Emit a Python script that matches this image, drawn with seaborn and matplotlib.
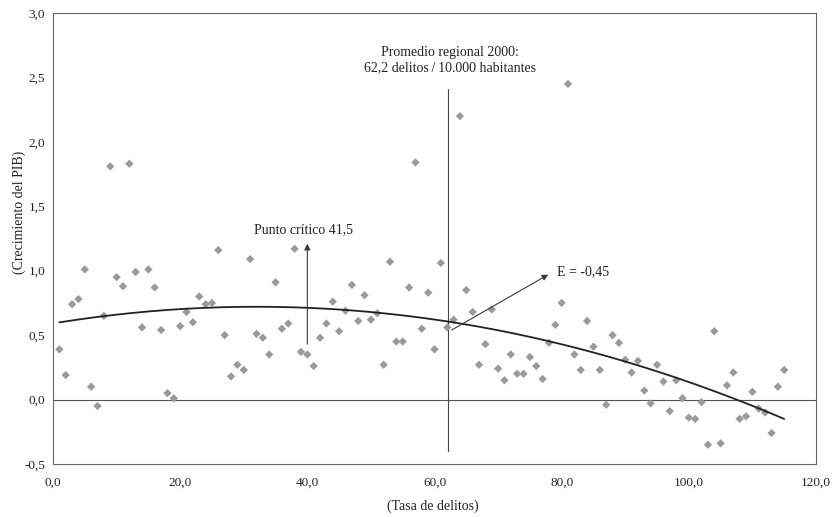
import numpy as np
import pandas as pd
import matplotlib
matplotlib.use("Agg")
import matplotlib.pyplot as plt
import seaborn as sns

# Crime rate per region (delitos / 10.000 habitantes) and GDP growth
tasa_delitos = [
    1, 2, 3, 4, 5, 6, 7, 8, 9, 10, 11, 12, 13, 14, 15, 16, 17, 18, 19, 20,
    21, 22, 23, 24, 25, 26, 27, 28, 29, 30, 31, 32, 33, 34, 35, 36, 37, 38, 39, 40,
    41, 42, 43, 44, 45, 46, 47, 48, 49, 50, 51, 52, 53, 54, 55, 56, 57, 58, 59, 60,
    61, 62, 63, 64, 65, 66, 67, 68, 69, 70, 71, 72, 73, 74, 75, 76, 77, 78, 79, 80,
    81, 82, 83, 84, 85, 86, 87, 88, 89, 90, 91, 92, 93, 94, 95, 96, 97, 98, 99, 100,
    101, 102, 103, 104, 105, 106, 107, 108, 109, 110, 111, 112, 113, 114, 115,
]
crecimiento_pib = [
    0.39, 0.19, 0.74, 0.78, 1.01, 0.10, -0.05, 0.65, 1.81, 0.95,
    0.88, 1.83, 0.99, 0.56, 1.01, 0.87, 0.54, 0.05, 0.01, 0.57,
    0.68, 0.60, 0.80, 0.74, 0.75, 1.16, 0.50, 0.18, 0.27, 0.23,
    1.09, 0.51, 0.48, 0.35, 0.91, 0.55, 0.59, 1.17, 0.37, 0.35,
    0.26, 0.48, 0.59, 0.76, 0.53, 0.69, 0.89, 0.61, 0.81, 0.62,
    0.67, 0.27, 1.07, 0.45, 0.45, 0.87, 1.84, 0.55, 0.83, 0.39,
    1.06, 0.56, 0.62, 2.20, 0.85, 0.68, 0.27, 0.43, 0.70, 0.24,
    0.15, 0.35, 0.20, 0.20, 0.33, 0.26, 0.16, 0.44, 0.58, 0.75,
    2.45, 0.35, 0.23, 0.61, 0.41, 0.23, -0.04, 0.50, 0.44, 0.31,
    0.21, 0.30, 0.07, -0.03, 0.27, 0.14, -0.09, 0.15, 0.01, -0.14,
    -0.15, -0.02, -0.35, 0.53, -0.34, 0.11, 0.21, -0.15, -0.13, 0.06,
    -0.07, -0.10, -0.26, 0.10, 0.23,
]

# Quadratic trend: y = c2*x^2 + c1*x + c0
coef_tendencia = [-0.0001263, 0.00808, 0.591]
tramo_tendencia = [1, 115]

promedio_regional = 62.2
x_ticks = [0, 20, 40, 60, 80, 100, 120]
y_ticks = [-0.5, 0.0, 0.5, 1.0, 1.5, 2.0, 2.5, 3.0]

df = pd.DataFrame({"tasa": tasa_delitos, "pib": crecimiento_pib})
xs = np.linspace(tramo_tendencia[0], tramo_tendencia[1], 200)
df_curva = pd.DataFrame({"tasa": xs, "pib": np.polyval(coef_tendencia, xs)})

sns.set_theme(style="white")
plt.rcParams["font.family"] = ["Liberation Serif", "DejaVu Serif"]

fig = plt.figure(figsize=(8.35, 5.17), dpi=100)
ax = fig.add_axes([53 / 835, 53 / 517, 763 / 835, 451 / 517])

line_col = "#3a3a3a"

# reference lines
ax.axhline(0, color="#555555", lw=0.8, zorder=1)
ax.plot([promedio_regional, promedio_regional], [-0.40, 2.41], color="#444444", lw=0.8, zorder=1)

sns.scatterplot(data=df, x="tasa", y="pib", marker="D", s=18, color="#9a9a9a",
                edgecolor="none", ax=ax, zorder=2)
sns.lineplot(data=df_curva, x="tasa", y="pib", color="#222222", lw=1.3, ax=ax, zorder=3)

arrow_kw = dict(arrowstyle="-|>", color=line_col, lw=0.8, mutation_scale=9, shrinkA=0, shrinkB=0)
ax.annotate("", xy=(40.0, 1.21), xytext=(40.0, 0.43), arrowprops=arrow_kw)
ax.annotate("", xy=(77.9, 0.97), xytext=(62.7, 0.54), arrowprops=arrow_kw)

ax.text(39.4, 1.32, "Punto crítico 41,5", ha="center", va="center", fontsize=10, color="#222222")
ax.text(79.3, 0.99, "E = -0,45", ha="left", va="center", fontsize=10, color="#222222")
ax.text(62.4, 2.635, "Promedio regional 2000:\n62,2 delitos\u2009/\u200910.000 habitantes",
        ha="center", va="center", fontsize=10, color="#222222", linespacing=1.15)

ax.set_xlim(0, 120)
ax.set_ylim(-0.5, 3.0)
ax.set_xticks(x_ticks)
ax.set_yticks(y_ticks)
ax.set_xticklabels([f"{v:.1f}".replace(".", ",") for v in x_ticks])
ax.set_yticklabels([f"{v:.1f}".replace(".", ",") for v in y_ticks])

ax.set_xlabel("(Tasa de delitos)", fontsize=10, color="#222222")
ax.set_ylabel("(Crecimiento del PIB)", fontsize=10, color="#222222")
ax.xaxis.set_label_coords(0.498, -0.078)
ax.yaxis.set_label_coords(-0.036, 0.559)

ax.tick_params(axis="both", direction="inout", length=5, width=0.7, colors="#555555",
               labelcolor="#222222", labelsize=9.5)
ax.tick_params(axis="x", pad=7)
ax.tick_params(axis="y", pad=3)

for side in ["left", "right", "top", "bottom"]:
    ax.spines[side].set_visible(True)
    ax.spines[side].set_color("#666666")
    ax.spines[side].set_linewidth(0.8)

fig.savefig("out.png", dpi=100, facecolor="white")
